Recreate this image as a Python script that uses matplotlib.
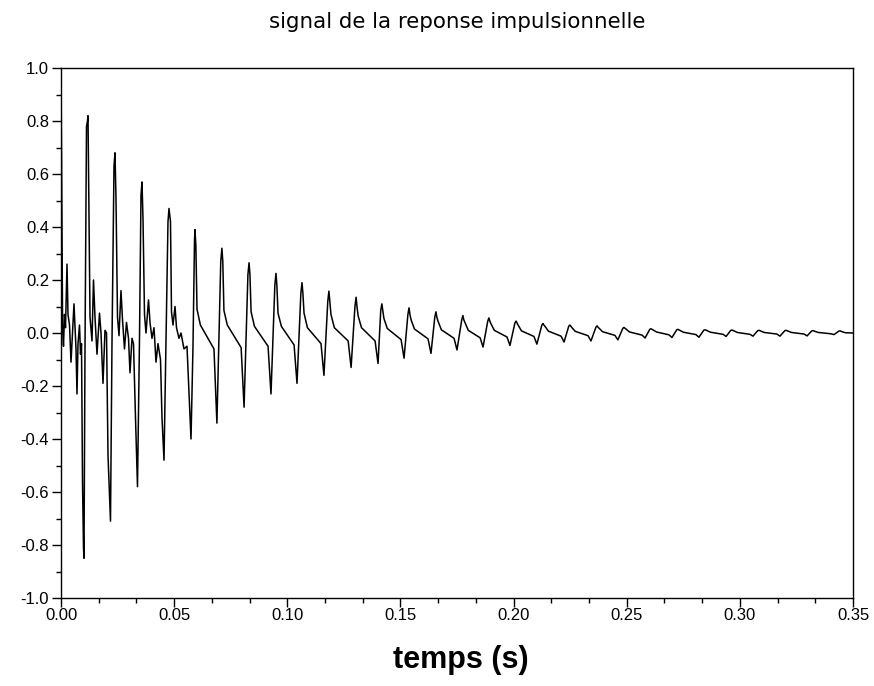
import matplotlib
matplotlib.use("Agg")
import matplotlib.pyplot as plt
from matplotlib.ticker import MultipleLocator, FormatStrFormatter

# ---------------- data ----------------
# first periods (irregular transient), explicit vertices
early_t = [0.0, 0.00027, 0.00071, 0.0011, 0.00155, 0.00199, 0.00265, 0.00309,
           0.00376, 0.00442, 0.00508, 0.00574, 0.00619, 0.00663, 0.00707,
           0.00751, 0.00818, 0.00862, 0.00906, 0.0095, 0.00994, 0.01016,
           0.01061, 0.01127, 0.01171,
           0.01193, 0.01224, 0.01282, 0.0137, 0.01436, 0.01502, 0.01591,
           0.01701, 0.01768, 0.01856, 0.01944, 0.02011, 0.02077, 0.02187,
           0.02254, 0.02342,
           0.02386, 0.0243, 0.02497, 0.02563, 0.02651, 0.02718, 0.02806,
           0.02894, 0.02983, 0.03049, 0.03137, 0.03204, 0.03292, 0.0338,
           0.03469, 0.03535,
           0.03579, 0.03624, 0.0369, 0.03756, 0.03867, 0.03933, 0.04021,
           0.0411, 0.04198, 0.04287, 0.04397, 0.04463, 0.04552, 0.0464,
           0.04728,
           0.04773, 0.04839, 0.04883, 0.04949, 0.05038, 0.05104, 0.05214,
           0.05303, 0.05435, 0.05568, 0.05656, 0.05745, 0.05833, 0.059]
early_v = [1.0, 0.64, 0.01, -0.05, 0.07, 0.02, 0.26, 0.07,
           0.03, -0.11, 0.0, 0.11, 0.02, -0.06, -0.23,
           -0.04, 0.03, -0.08, -0.04, -0.56, -0.81, -0.85,
           -0.05, 0.78, 0.80,
           0.82, 0.56, 0.06, -0.03, 0.20, 0.06, -0.08,
           0.075, 0.0, -0.19, 0.01, 0.0, -0.46, -0.71,
           -0.03, 0.63,
           0.68, 0.51, 0.06, -0.01, 0.16, 0.05, -0.06,
           0.04, -0.02, -0.15, -0.02, -0.04, -0.32, -0.58,
           -0.02, 0.52,
           0.57, 0.43, 0.07, 0.0, 0.125, 0.04, -0.02,
           0.02, -0.11, -0.04, -0.10, -0.32, -0.48, -0.02,
           0.42,
           0.47, 0.42, 0.08, 0.03, 0.10, 0.02, -0.02,
           0.0, -0.06, -0.05, -0.22, -0.40, -0.05, 0.35]

# regular decaying periods (peaks from 0.0592 s on)
peak_t = [0.0592, 0.0711, 0.0831, 0.0950, 0.1065, 0.1184, 0.1304, 0.1418,
          0.1538, 0.1657, 0.1776, 0.1891, 0.2011, 0.2130, 0.2249, 0.2369,
          0.2488, 0.2607, 0.2726, 0.2846, 0.2965, 0.3084, 0.3204, 0.3323,
          0.3442]
peak_v = [0.39, 0.32, 0.265, 0.225, 0.19, 0.158, 0.135, 0.11,
          0.095, 0.08, 0.066, 0.057, 0.045, 0.036, 0.030, 0.027,
          0.021, 0.016, 0.014, 0.012, 0.011, 0.010, 0.010, 0.009,
          0.008]
notch_v = [0.33, 0.27, 0.22, 0.18, 0.15, 0.12, 0.10, 0.085,
           0.07, 0.06, 0.05, 0.045, 0.038, 0.03, 0.026, 0.022,
           0.018, 0.014, 0.012, 0.011, 0.010, 0.009, 0.009, 0.008,
           0.007]
shoulder_v = [0.09, 0.085, 0.08, 0.075, 0.075, 0.07, 0.065, 0.055,
              0.05, 0.045, 0.04, 0.035, 0.03, 0.025, 0.02, 0.018,
              0.015, 0.012, 0.01, 0.009, 0.008, 0.007, 0.007, 0.006,
              0.005]
plateau_v = [0.03, 0.03, 0.025, 0.025, 0.02, 0.02, 0.02, 0.017,
             0.015, 0.012, 0.01, 0.01, 0.008, 0.007, 0.006, 0.005,
             0.004, 0.004, 0.003, 0.003, 0.002, 0.002, 0.002, 0.002,
             0.001]
sag_v = [-0.06, -0.055, -0.05, -0.045, -0.04, -0.03, -0.03, -0.025,
         -0.022, -0.02, -0.018, -0.015, -0.013, -0.012, -0.01, -0.009,
         -0.008, -0.007, -0.006, -0.005, -0.005, -0.004, -0.004, -0.003]
trough_t = [0.0689, 0.0809, 0.0928, 0.1043, 0.1162, 0.1282, 0.1401, 0.1516,
            0.1635, 0.1750, 0.1865, 0.1984, 0.2103, 0.2223, 0.2342, 0.2461,
            0.2581, 0.2700, 0.2819, 0.2939, 0.3058, 0.3177, 0.3297, 0.3416]
trough_v = [-0.34, -0.28, -0.23, -0.19, -0.16, -0.13, -0.115, -0.095,
            -0.077, -0.064, -0.053, -0.047, -0.042, -0.034, -0.030, -0.026,
            -0.019, -0.017, -0.016, -0.013, -0.012, -0.012, -0.011, -0.006]
end_t, end_v = 0.35, 0.0

xticks = [0.00, 0.05, 0.10, 0.15, 0.20, 0.25, 0.30, 0.35]
yticks = [-1.0, -0.8, -0.6, -0.4, -0.2, 0.0, 0.2, 0.4, 0.6, 0.8, 1.0]
title = "signal de la reponse impulsionnelle"
xlabel = "temps (s)"

# ---------------- build the polyline ----------------
t = list(early_t)
v = list(early_v)
n = len(peak_t)
for k in range(n):
    t += [peak_t[k], peak_t[k] + 0.0004, peak_t[k] + 0.0009, peak_t[k] + 0.0024]
    v += [peak_v[k], notch_v[k], shoulder_v[k], plateau_v[k]]
    if k + 1 < n:
        t += [trough_t[k] - 0.0013, trough_t[k], peak_t[k + 1] - 0.0005]
        v += [sag_v[k], trough_v[k], notch_v[k + 1]]
t.append(end_t)
v.append(end_v)

# ---------------- figure ----------------
W, H = 874, 686
fig = plt.figure(figsize=(W / 100, H / 100), dpi=100)
ax = fig.add_axes([61 / W, 1 - 598 / H, (853 - 61) / W, (598 - 68) / H])
ax.plot(t, v, color="black", linewidth=1.1)
ax.set_xlim(0, 0.35)
ax.set_ylim(-1.0, 1.0)

tick_font = ["Liberation Sans", "DejaVu Sans"]
ax.xaxis.set_minor_locator(MultipleLocator(0.05 / 3))
ax.yaxis.set_minor_locator(MultipleLocator(0.1))
ax.set_xticks(xticks)
ax.set_yticks(yticks)
ax.xaxis.set_major_formatter(FormatStrFormatter("%.2f"))
ax.yaxis.set_major_formatter(FormatStrFormatter("%.1f"))
ax.tick_params(which="major", direction="out", length=6.5, width=1, labelsize=12, pad=2)
ax.tick_params(axis="x", which="major", pad=0.5)
ax.tick_params(which="minor", direction="out", length=3.5, width=1)
for lab in ax.get_xticklabels() + ax.get_yticklabels():
    lab.set_family(tick_font)
for sp in ax.spines.values():
    sp.set_linewidth(1.0)

fig.text(457 / W, 1 - 22 / H, title, ha="center", va="center",
         fontsize=15.4, family=["DejaVu Sans"])
fig.text(461 / W, 1 - 660 / H, xlabel, ha="center", va="center",
         fontsize=22, fontweight="bold", family=tick_font)

fig.savefig("out.png", dpi=100)
